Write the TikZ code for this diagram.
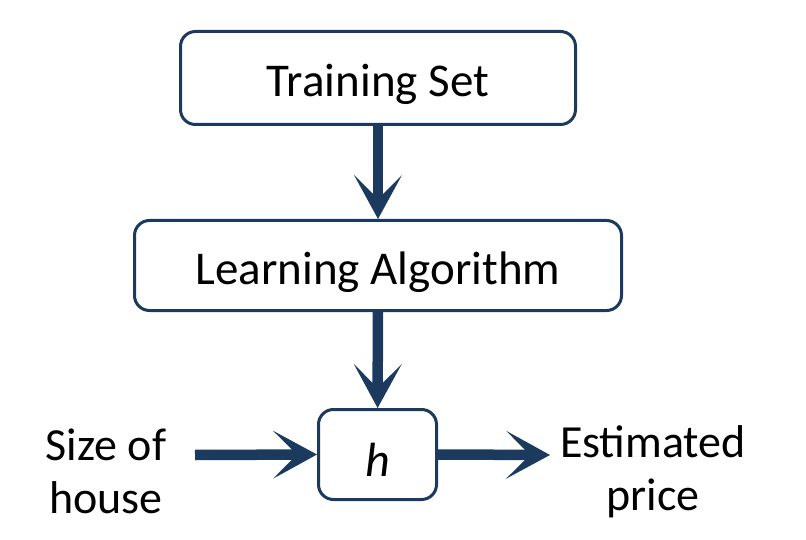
\documentclass[tikz,border=0pt]{standalone}
\usepackage{fontspec}
\setmainfont{Carlito}
\usetikzlibrary{arrows.meta}
\definecolor{navy}{HTML}{1C3A5E}
\tikzset{
  box/.style={draw=navy,line width=3pt,rounded corners=15pt,font=\fontsize{47}{56}\selectfont,inner sep=0pt,text height=37pt,text depth=0pt},
  flow/.style={draw=navy,line width=10.5pt,-{Stealth[length=44pt,width=48pt,inset=24pt,line width=0pt]}},
  side/.style={align=center,font=\fontsize{46}{53}\selectfont,inner sep=0pt,anchor=base}
}
\begin{document}
\begin{tikzpicture}[x=1pt,y=-1pt]
\useasboundingbox (0,0) rectangle (806,540);
\node[box,minimum width=395pt,minimum height=93pt](train) at (378,78){Training Set};
\node[box,minimum width=487pt,minimum height=90pt](learn) at (378,265.5){Learning Algorithm};
\node[box,minimum width=118pt,minimum height=90pt,font=\fontsize{48}{56}\selectfont\itshape,text height=43pt](hyp) at (377.5,454.5){h};
\node[side](size) at (106,513){Size of\\house};
\node[side](price) at (653,510){Estimated\\price};
\coordinate (in) at (195,455);
\draw[flow](train) -- (learn);
\draw[flow](learn) -- (hyp);
\draw[flow](in) -- (hyp.west);
\draw[flow](hyp.east) -- (550,455);
\end{tikzpicture}
\end{document}
